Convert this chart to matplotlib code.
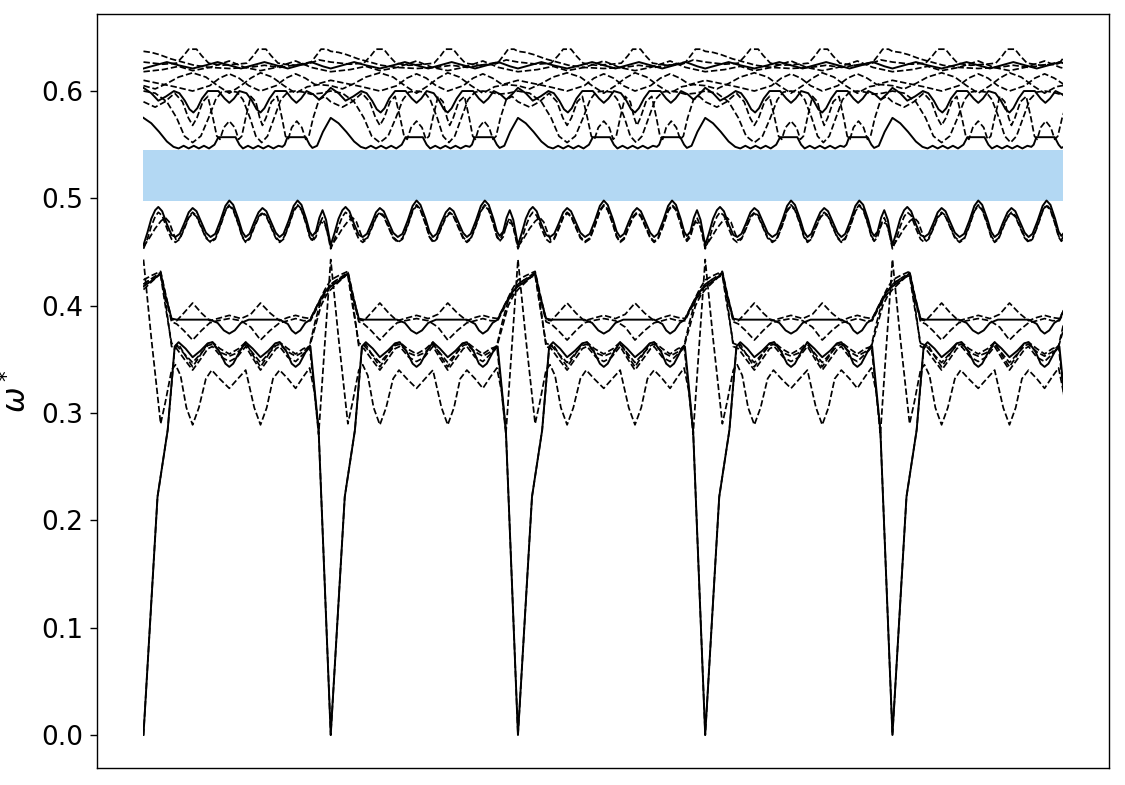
import matplotlib
matplotlib.use("Agg")
import matplotlib.pyplot as plt
from matplotlib.patches import Rectangle

# ---------------- data ----------------
SEG = 48            # path length of one repeated unit (Gamma to Gamma)
N_FULL = 4          # number of complete units
X_END = N_FULL * SEG + 43.6   # path ends part-way through the fifth unit

gap_low = 0.498
gap_high = 0.5455

yticks = [0.0, 0.1, 0.2, 0.3, 0.4, 0.5, 0.6]
ytick_labels = ["0.0", "0.1", "0.2", "0.3", "0.4", "0.5", "0.6"]

# one unit of each band: (k, omega*) pairs, k in 0..48
# ---- lower group ----
low_solid_a = [(0, 0.0), (3.6, 0.222), (6.2, 0.284), (8, 0.362), (9, 0.366), (10.8, 0.36), (12.6, 0.352),
               (14.6, 0.358), (16.5, 0.365), (17.7, 0.366), (19.5, 0.357), (21, 0.346), (22, 0.343),
               (23, 0.346), (24.6, 0.357), (26.2, 0.366), (28, 0.36), (30, 0.352), (32, 0.358),
               (33.8, 0.365), (34.9, 0.366), (36.7, 0.357), (38, 0.346), (39, 0.343), (40, 0.346),
               (41.6, 0.357), (42.8, 0.362), (44.9, 0.284), (48, 0.0)]
low_solid_b = [(0, 0.418), (2, 0.423), (4.4, 0.43), (5.6, 0.41), (7.2, 0.388), (8.5, 0.387), (12.6, 0.387),
               (17, 0.387), (19, 0.384), (20.6, 0.377), (22, 0.374), (23.4, 0.377), (25, 0.384),
               (27, 0.387), (30, 0.387), (34.9, 0.387), (37, 0.383), (38, 0.377), (39, 0.374),
               (40.2, 0.377), (41.5, 0.384), (42.8, 0.387), (44.5, 0.40), (46.5, 0.413), (48, 0.418)]
low_dash_a = [(0, 0.0), (3.6, 0.222), (6.2, 0.284), (8, 0.36), (9, 0.364), (10.8, 0.353), (12.6, 0.343),
              (14.4, 0.353), (16.3, 0.364), (17.7, 0.366), (19.6, 0.36), (22, 0.355), (24.4, 0.36),
              (26.2, 0.366), (28.2, 0.353), (30, 0.343), (31.8, 0.353), (33.6, 0.364), (34.9, 0.366),
              (37, 0.36), (39, 0.355), (41, 0.36), (42.6, 0.362), (44.9, 0.284), (48, 0.0)]
low_dash_b = [(0, 0.415), (2, 0.422), (4.4, 0.43), (5.6, 0.405), (7.2, 0.362), (8.5, 0.36), (10.5, 0.35),
              (12.6, 0.34), (14.6, 0.35), (16.5, 0.36), (17.7, 0.362), (20, 0.352), (22, 0.348),
              (24, 0.352), (26.2, 0.362), (28.2, 0.35), (30, 0.34), (32, 0.35), (34, 0.36), (34.9, 0.362),
              (37, 0.352), (39, 0.348), (41, 0.355), (42.6, 0.362), (44, 0.38), (45.5, 0.40),
              (46.9, 0.41), (48, 0.415)]
low_dash_c = [(0, 0.42), (2, 0.425), (4.4, 0.428), (5.6, 0.40), (7.2, 0.365), (8.5, 0.363), (10.5, 0.355),
              (12.6, 0.347), (14.6, 0.355), (16.5, 0.363), (17.7, 0.364), (20, 0.356), (22, 0.353),
              (24, 0.356), (26.2, 0.364), (28.2, 0.355), (30, 0.347), (32, 0.355), (34, 0.363),
              (34.9, 0.364), (37, 0.357), (39, 0.353), (41, 0.357), (42.6, 0.363), (44, 0.385),
              (45.5, 0.405), (46.9, 0.412), (48, 0.42)]
low_dash_deep = [(0, 0.443), (2, 0.37), (4.4, 0.29), (5.6, 0.31), (7.2, 0.34), (8.2, 0.345), (9.5, 0.335),
                 (11, 0.305), (12.6, 0.289), (14.2, 0.305), (16, 0.332), (17.5, 0.34), (19.5, 0.332),
                 (22, 0.323), (24.2, 0.332), (26.2, 0.34), (28.4, 0.305), (30, 0.289), (31.6, 0.305),
                 (33.2, 0.332), (34.9, 0.34), (37, 0.332), (39, 0.323), (41, 0.334), (42.6, 0.342),
                 (43.8, 0.32), (44.9, 0.28), (46.4, 0.36), (48, 0.443)]
low_dash_eye_bot = [(0, 0.42), (2, 0.425), (4.4, 0.431), (5.6, 0.41), (7.2, 0.385), (8.5, 0.383),
                    (10.3, 0.377), (12.6, 0.368), (14.9, 0.377), (17, 0.384), (19, 0.386), (22, 0.388),
                    (25, 0.386), (27.5, 0.38), (30, 0.368), (32.5, 0.377), (34.9, 0.384), (37, 0.386),
                    (39, 0.388), (41, 0.386), (42.8, 0.386), (44.5, 0.398), (46.5, 0.412), (48, 0.42)]
low_dash_eye_top = [(0, 0.424), (2, 0.428), (4.4, 0.432), (5.6, 0.412), (7.2, 0.387), (8.5, 0.386),
                    (10.3, 0.393), (12.6, 0.4025), (14.9, 0.393), (17, 0.386), (19, 0.388), (22, 0.391),
                    (25, 0.388), (27.5, 0.392), (30, 0.4025), (32.5, 0.393), (34.9, 0.386), (37, 0.389),
                    (39, 0.391), (41, 0.389), (42.8, 0.388), (44.5, 0.40), (46.5, 0.415), (48, 0.424)]

# ---- group just below the gap ----
mid_solid = [(0, 0.4565), (1, 0.468), (2, 0.481), (3, 0.489), (3.8, 0.492), (4.8, 0.488), (6, 0.476),
             (7.2, 0.466), (8.2, 0.464), (9.3, 0.467), (10.5, 0.477), (11.6, 0.487), (12.6, 0.491),
             (13.6, 0.488), (14.8, 0.478), (16, 0.468), (17.2, 0.464), (18.4, 0.467), (19.7, 0.479),
             (21, 0.493), (22, 0.498), (23, 0.494), (24.3, 0.481), (25.3, 0.469), (26.2, 0.464),
             (27.2, 0.467), (28.4, 0.478), (29.5, 0.487), (30.5, 0.491), (31.5, 0.488), (32.7, 0.478),
             (33.9, 0.468), (34.9, 0.464), (35.9, 0.467), (37.2, 0.479), (38.5, 0.493), (39.5, 0.498),
             (40.5, 0.494), (41.7, 0.481), (42.6, 0.469), (43.3, 0.465), (44.2, 0.469), (45.1, 0.482),
             (45.9, 0.489), (46.8, 0.48), (48, 0.4565)]
mid_dash_a = [(0, 0.453), (1, 0.462), (2, 0.474), (3, 0.483), (3.8, 0.487), (4.8, 0.484), (6, 0.472),
              (7.2, 0.462), (8.2, 0.459), (9.3, 0.462), (10.5, 0.472), (11.6, 0.482), (12.6, 0.486),
              (13.6, 0.483), (14.8, 0.473), (16, 0.463), (17.2, 0.459), (18.4, 0.462), (19.7, 0.474),
              (21, 0.488), (22, 0.493), (23, 0.489), (24.3, 0.476), (25.3, 0.464), (26.2, 0.459),
              (27.2, 0.462), (28.4, 0.473), (29.5, 0.482), (30.5, 0.486), (31.5, 0.483), (32.7, 0.473),
              (33.9, 0.463), (34.9, 0.459), (35.9, 0.462), (37.2, 0.474), (38.5, 0.488), (39.5, 0.493),
              (40.5, 0.489), (41.7, 0.476), (42.6, 0.464), (43.3, 0.46), (44.2, 0.464), (45.1, 0.476),
              (45.9, 0.482), (46.8, 0.474), (48, 0.453)]
mid_dash_b = [(0, 0.455), (1.5, 0.463), (3, 0.472), (4.5, 0.479), (5.6, 0.482), (6.6, 0.478), (7.6, 0.468),
              (8.4, 0.461), (9.3, 0.463), (10.5, 0.473), (11.6, 0.483), (12.6, 0.487), (13.6, 0.484),
              (14.8, 0.474), (16, 0.464), (17.2, 0.46), (18.4, 0.463), (19.7, 0.475), (21, 0.489),
              (22, 0.494), (23, 0.49), (24.3, 0.477), (25.3, 0.465), (26.2, 0.46), (27.2, 0.463),
              (28.4, 0.474), (29.5, 0.483), (30.5, 0.487), (31.5, 0.484), (32.7, 0.474), (33.9, 0.464),
              (34.9, 0.46), (35.9, 0.463), (37.2, 0.475), (38.5, 0.489), (39.5, 0.494), (40.5, 0.49),
              (41.7, 0.477), (42.6, 0.465), (43.3, 0.461), (44.5, 0.47), (45.5, 0.478), (46.5, 0.476),
              (47.3, 0.466), (48, 0.455)]

# ---- group just above the gap ----
up_solid_low = [(0, 0.575), (2, 0.57), (4, 0.562), (6, 0.553), (7.7, 0.548), (9, 0.5465), (10.3, 0.549),
                (11.6, 0.5465), (12.9, 0.549), (14.2, 0.5465), (15.5, 0.549), (16.8, 0.5465), (18.2, 0.55),
                (19.2, 0.557), (21, 0.557), (23.6, 0.557), (24.6, 0.55), (25.5, 0.5465), (26.8, 0.549),
                (28.1, 0.5465), (29.4, 0.549), (30.7, 0.5465), (32, 0.549), (33.3, 0.5465), (34.6, 0.549),
                (35.6, 0.548), (36.2, 0.55), (36.9, 0.557), (41.6, 0.557), (42.6, 0.55), (43.3, 0.547),
                (44.5, 0.549), (46, 0.562), (48, 0.575)]
up_solid_m = [(0, 0.603), (2, 0.598), (3.8, 0.591), (5.8, 0.595), (7.8, 0.600), (9.2, 0.598), (10.6, 0.591),
              (11.8, 0.583), (12.8, 0.580), (13.8, 0.584), (15, 0.593), (16.5, 0.600), (19.2, 0.600),
              (20.8, 0.593), (22, 0.589), (23.2, 0.593), (24.6, 0.600), (26.4, 0.598), (27.8, 0.591),
              (29, 0.583), (30, 0.580), (31, 0.584), (32.3, 0.593), (33.7, 0.600), (36.5, 0.600),
              (38, 0.593), (39.2, 0.589), (40.4, 0.593), (41.8, 0.600), (43.5, 0.597), (45, 0.592),
              (46.5, 0.597), (48, 0.603)]
up_dash_deep = [(0, 0.6), (3, 0.598), (6, 0.59), (8.5, 0.575), (10.5, 0.558), (12.6, 0.552), (14.7, 0.558),
                (16.7, 0.575), (18.5, 0.592), (20, 0.599), (22, 0.6), (24, 0.599), (25.5, 0.592),
                (27.3, 0.575), (28.8, 0.558), (30.3, 0.552), (31.8, 0.558), (33.5, 0.575), (35.2, 0.592),
                (37, 0.599), (39, 0.6), (41, 0.599), (43, 0.597), (45.5, 0.598), (48, 0.6)]
up_dash_arch = [(0, 0.59), (3, 0.585), (5.5, 0.59), (8, 0.598), (10, 0.59), (11.5, 0.575), (12.6, 0.568),
                (13.7, 0.575), (15.2, 0.59), (16.5, 0.595), (17.8, 0.575), (18.8, 0.558), (19.6, 0.555),
                (20.6, 0.566), (22, 0.572), (23.4, 0.566), (24.4, 0.555), (25.2, 0.558), (26.2, 0.575),
                (27.5, 0.595), (28.8, 0.59), (29.8, 0.575), (30.5, 0.568), (31.4, 0.575), (32.8, 0.59),
                (34.3, 0.595), (35.5, 0.575), (36.4, 0.558), (37.1, 0.555), (38, 0.566), (39.3, 0.572),
                (40.6, 0.566), (41.6, 0.555), (42.4, 0.558), (43.5, 0.575), (45, 0.592), (46.5, 0.595),
                (48, 0.59)]
up_dash_arc_a = [(0, 0.605), (3, 0.602), (6, 0.607), (9, 0.613), (12.6, 0.617), (16, 0.613), (19, 0.605),
                 (22, 0.598), (25, 0.605), (27.5, 0.612), (30, 0.617), (33, 0.613), (36, 0.605),
                 (39, 0.598), (42, 0.604), (45, 0.606), (48, 0.605)]
up_dash_arc_b = [(0, 0.61), (4, 0.607), (8, 0.604), (12.6, 0.6), (17, 0.605), (19.5, 0.612), (22, 0.616),
                 (24.5, 0.612), (27, 0.605), (30, 0.6), (34, 0.605), (36.5, 0.612), (39, 0.616),
                 (41.5, 0.612), (44, 0.606), (48, 0.61)]

# ---- top group ----
top_solid = [(0, 0.621), (3, 0.624), (6, 0.627), (9, 0.624), (12.6, 0.621), (16, 0.624), (19, 0.627),
             (22, 0.624), (25, 0.621), (28, 0.624), (31, 0.627), (34, 0.624), (37, 0.621), (40, 0.624),
             (43, 0.627), (46, 0.623), (48, 0.621)]
top_dash_bump = [(0, 0.627), (5, 0.625), (8.5, 0.626), (10.3, 0.633), (11.6, 0.639), (13.6, 0.639),
                 (14.9, 0.633), (16.7, 0.626), (20, 0.624), (24, 0.625), (26.5, 0.626), (28.2, 0.633),
                 (29.4, 0.639), (31.4, 0.639), (32.7, 0.633), (34.5, 0.626), (38, 0.624), (42, 0.625),
                 (45, 0.629), (48, 0.627)]
top_dash_gamma = [(0, 0.637), (2, 0.636), (4, 0.634), (7, 0.63), (10, 0.627), (13, 0.624), (17, 0.622),
                  (22, 0.621), (27, 0.622), (31, 0.624), (35, 0.622), (40, 0.625), (43, 0.627),
                  (44.5, 0.634), (45.5, 0.639), (47, 0.639), (48, 0.637)]
top_dash_low = [(0, 0.618), (5, 0.62), (9, 0.623), (12.6, 0.619), (17, 0.622), (22, 0.628), (26, 0.622),
                (30, 0.619), (34, 0.622), (39, 0.628), (43, 0.622), (48, 0.618)]

solid_bands = [low_solid_a, low_solid_b, mid_solid, up_solid_low, up_solid_m, top_solid]
dashed_bands = [low_dash_a, low_dash_b, low_dash_c, low_dash_deep, low_dash_eye_bot, low_dash_eye_top,
                mid_dash_a, mid_dash_b, up_dash_deep, up_dash_arch, up_dash_arc_a, up_dash_arc_b,
                top_dash_bump, top_dash_gamma, top_dash_low]


def along_path(unit):
    """Repeat one unit along the path; stop just past the path end."""
    xs, ys = [], []
    for s in range(N_FULL + 1):
        for k, v in unit:
            if s > 0 and k == 0:
                continue
            x = s * SEG + k
            xs.append(x)
            ys.append(v)
            if x > X_END:
                return xs, ys
    return xs, ys


# ---------------- figure ----------------
fig = plt.figure(figsize=(11.25, 7.85), dpi=100)
ax = fig.add_axes([0.0862, 0.0217, 0.8996, 0.9605])

span = X_END
ax.set_xlim(-0.0506 * span, X_END + 0.0506 * span)
ax.set_ylim(-0.0307, 0.6718)

clip = Rectangle((0, -1), X_END, 3, transform=ax.transData, facecolor="none", edgecolor="none")
ax.add_patch(clip)

ax.add_patch(Rectangle((0, gap_low), X_END, gap_high - gap_low, facecolor="#b3d8f3",
                       edgecolor="none", zorder=0))

for unit in dashed_bands:
    xs, ys = along_path(unit)
    ln, = ax.plot(xs, ys, color="black", lw=1.25, ls="--", zorder=2)
    ln.set_clip_path(clip)
for unit in solid_bands:
    xs, ys = along_path(unit)
    ln, = ax.plot(xs, ys, color="black", lw=1.4, ls="-", zorder=3)
    ln.set_clip_path(clip)

ax.set_xticks([])
ax.set_yticks(yticks)
ax.set_yticklabels(ytick_labels, fontsize=19)
ax.tick_params(axis="y", length=5, width=1, pad=5)
ax.set_ylabel(r"$\omega^*$", fontsize=22, labelpad=6)
for sp in ax.spines.values():
    sp.set_linewidth(1.0)

fig.savefig("out.png", dpi=100)
